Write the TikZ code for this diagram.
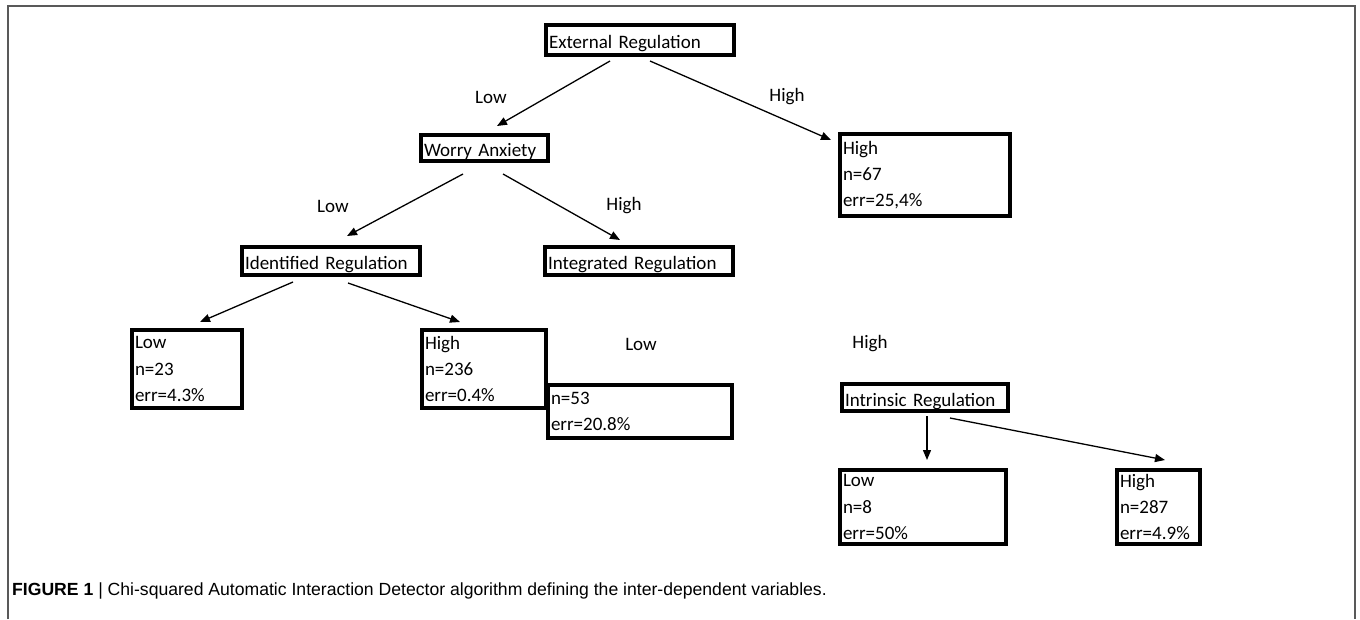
\documentclass[tikz,border=0pt]{standalone}
\usepackage{fontspec}
\setmainfont{Carlito}
\newfontfamily\capfont{Liberation Sans}
\usetikzlibrary{arrows.meta,calc}
\begin{document}
\begin{tikzpicture}[x=1pt,y=-1pt,
  box/.style={draw=black, line width=4pt, inner xsep=3pt, inner ysep=0pt,
    align=left, font=\fontsize{19}{26.2}\selectfont},
  single/.style={box, text height=21pt},
  lbl/.style={font=\fontsize{19}{22}\selectfont, inner sep=0pt},
  arr/.style={line width=1.3pt, -{Triangle[length=10pt,width=8pt]}},
  frame/.style={draw=black!65, line width=1.5pt},
]
\useasboundingbox (0,0) rectangle (1360,619);
\draw[frame] (8,619) -- (8,6) -- (1355,6) -- (1355,619);

% boxes
\node[single, text width=182pt, minimum height=30pt] (ext) at (640,40) {External Regulation};
\node[single, text width=121pt, minimum height=26pt] (worry) at (484.5,148) {Worry Anxiety};
\node[box, text width=164pt, minimum height=82pt] (h67) at (925,175) {High\\n=67\\err=25,4\%};
\node[single, text width=172pt, minimum height=28pt] (ident) at (331,261) {Identified Regulation};
\node[single, text width=182pt, minimum height=28pt] (integ) at (639,261) {Integrated Regulation};
\node[box, text width=104pt, minimum height=78pt] (l23) at (187,369) {Low\\n=23\\err=4.3\%};
\node[box, text width=118pt, minimum height=78pt] (h236) at (484,369) {High\\n=236\\err=0.4\%};
\node[box, text width=178pt, minimum height=53pt] (n53) at (640,411.5) {n=53\\err=20.8\%};
\node[single, text width=160pt, minimum height=27pt] (intr) at (925,397.5) {Intrinsic Regulation};
\node[box, text width=160pt, minimum height=74pt] (l8) at (923,507) {Low\\n=8\\err=50\%};
\node[box, text width=77pt, minimum height=74pt] (h287) at (1158.5,507) {High\\n=287\\err=4.9\%};

% labels
\node[lbl] (t1) at (491,97) {Low};
\node[lbl] (t2) at (787,97) {High};
\node[lbl] (t3) at (333,206) {Low};
\node[lbl] (t4) at (624,206) {High};
\node[lbl] (t5) at (641,344) {Low};
\node[lbl] (t6) at (870,344) {High};

% arrows
\draw[arr] ($(ext.south)+(-30,4)$) -- ($(worry.north)+(12.5,-7)$);
\draw[arr] ($(ext.south)+(10,4)$) -- ($(h67.north west)+(-7,8)$);
\draw[arr] ($(worry.south)+(-21.5,11)$) -- ($(ident.north)+(16,-9)$);
\draw[arr] ($(worry.south)+(18.5,11)$) -- ($(integ.north)+(-19,-5)$);
\draw[arr] ($(ident.south)+(-38,5)$) -- ($(l23.north)+(13,-6)$);
\draw[arr] ($(ident.south)+(17,6)$) -- ($(h236.north)+(-24,-6)$);
\draw[arr] ($(intr.south)+(2,3)$) -- ($(l8.north)+(4,-8)$);
\draw[arr] ($(intr.south)+(25,5)$) -- ($(h287.north)+(6.5,-8)$);

% caption
\node[anchor=base west, inner sep=0pt, font=\capfont\fontsize{17.6}{20}\selectfont] (cap) at (12,595)
  {\textbf{FIGURE 1} | Chi-squared Automatic Interaction Detector algorithm defining the inter-dependent variables.};
\end{tikzpicture}
\end{document}
